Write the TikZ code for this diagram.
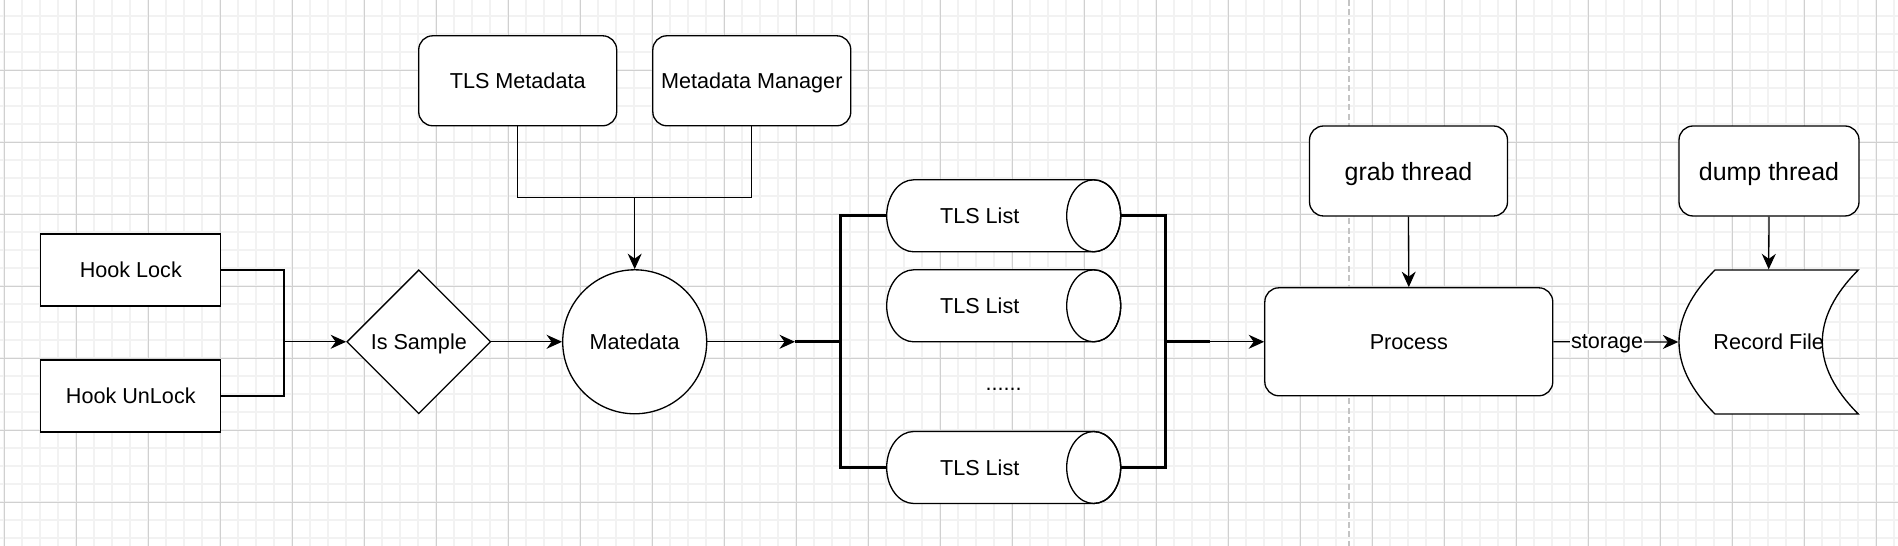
\documentclass[tikz,border=0pt]{standalone}
\usepackage{fontspec}
\setmainfont{Liberation Sans}
\usetikzlibrary{shapes.geometric,arrows.meta,calc}
\definecolor{gridminor}{HTML}{F2F2F2}
\definecolor{gridmajor}{HTML}{D0D0D0}
\definecolor{pageline}{HTML}{C4C4C4}

\begin{document}
\begin{tikzpicture}[x=0.02cm, y=-0.02cm, line width=0.75pt,
    font=\fontsize{12.3}{14}\selectfont,
    every node/.style={text depth=0pt},
    box/.style={draw, fill=white, line width=0.75pt},
    sqbox/.style={box, minimum width=3.6cm, minimum height=1.44cm},
    rbox/.style={box, rounded corners=0.28cm},
    tube/.style={minimum width=4.68cm, minimum height=1.44cm, inner sep=0pt},
    bigfont/.style={font=\fontsize{14.2}{17}\selectfont},
    flow/.style={-{Stealth[length=3.1mm,width=2.8mm]}},
    rail/.style={line width=1.7pt}]

  \useasboundingbox (0,0) rectangle (1898,546);
  \fill[white] (0,0) rectangle (1898,546);

  %%grid
  \foreach \i in {0,...,105}
    \draw[gridminor, line width=1pt] (4.3+18*\i, 0) to (4.3+18*\i, 546);
  \foreach \j in {0,...,30}
    \draw[gridminor, line width=1pt] (0, -1.7+18*\j) to (1898, -1.7+18*\j);
  \foreach \i in {0,...,26}
    \draw[gridmajor, line width=0.5pt] (4.3+72*\i, 0) to (4.3+72*\i, 546);
  \foreach \j in {0,...,7}
    \draw[gridmajor, line width=0.5pt] (0, -1.7+72*\j) to (1898, -1.7+72*\j);
  \draw[pageline, line width=1pt, dash pattern=on 3.4pt off 2pt] (1349,0) to (1349,546);

  %%hooks
  \node[sqbox] (lock) at (130.8,270) {Hook Lock};
  \node[sqbox] (unlock) at (130.8,396) {Hook UnLock};
  \node[box, diamond, minimum width=2.88cm, minimum height=2.88cm, inner sep=0pt] (sample) at (418.8,341.8) {Is Sample};
  \node[box, circle, minimum size=2.88cm, inner sep=0pt] (meta) at (634.7,341.8) {Matedata};

  %%metadata
  \node[rbox, minimum width=3.96cm, minimum height=1.8cm] (tlsmeta) at (517.7,80.8) {TLS Metadata};
  \node[rbox, minimum width=3.96cm, minimum height=1.8cm] (manager) at (751.8,80.8) {Metadata Manager};

  %%lists
  \foreach \cy in {215.8,305.8,467.5}{
    \draw[box] (913.7,\cy-36) -- (1093.7,\cy-36) arc[start angle=-90, end angle=90, x radius=27, y radius=36]
      -- (913.7,\cy+36) arc[start angle=90, end angle=270, x radius=27, y radius=36] -- cycle;
    \draw (1093.7,\cy) ellipse [x radius=27, y radius=36];
  }
  \node[tube] (listA) at (1003.7,215.8) {\hspace*{-0.96cm}TLS List};
  \node[tube] (listB) at (1003.7,305.8) {\hspace*{-0.96cm}TLS List};
  \node[tube] (listC) at (1003.7,467.5) {\hspace*{-0.96cm}TLS List};
  \node (dots) at (1003.7,389) {......};

  %%process
  \node[rbox, minimum width=5.76cm, minimum height=2.16cm] (proc) at (1408.8,341.8) {Process};
  \node[rbox, bigfont, minimum width=3.96cm, minimum height=1.8cm] (grab) at (1408.5,171) {grab thread};
  \node[rbox, bigfont, minimum width=3.6cm, minimum height=1.8cm] (dump) at (1769,171) {dump thread};

  %%record file
  \draw[box] (1715,270) -- (1858.3,270) .. controls (1810.3,318) and (1810.3,366) .. (1858.3,414)
    -- (1715,414) .. controls (1667,366) and (1667,318) .. (1715,270) -- cycle;
  \node[minimum width=3.59cm, minimum height=2.88cm] (rec) at (1768.7,342) {Record File};

  %%connectors
  \coordinate (merge) at (284,341.8);
  \draw (lock.east) -| (merge);
  \draw (unlock.east) -| (merge);
  \draw[flow] (merge) -- (sample.west);
  \draw[flow] (sample.east) -- (meta.west);

  \coordinate (join) at (634.7,197.7);
  \draw (tlsmeta.south) |- (join) -| (manager.south);
  \draw[flow] (join) -- (meta.north);

  \coordinate (inL) at (795,341.8);
  \coordinate (railL) at (840,341.8);
  \draw[flow] (meta.east) -- (inL);
  \draw[rail] (inL) -- (railL);
  \draw[rail] (listA.west) -| (railL) |- (listC.west);

  \coordinate (railR) at (1165.7,341.8);
  \coordinate (outR) at (1210,341.8);
  \draw[rail] (listA.east) -| (railR) |- (listC.east);
  \draw[rail] (railR) -- (outR);
  \draw[flow] (outR) -- (proc.west);

  \draw[flow] (grab.south) -- (proc.north);
  \draw[flow] (dump.south) -- (rec.north);
  \draw[flow] (proc.east) -- node[pos=0.43, fill=white, inner sep=0.5pt] (store) {storage} (rec.west);

\end{tikzpicture}
\end{document}
